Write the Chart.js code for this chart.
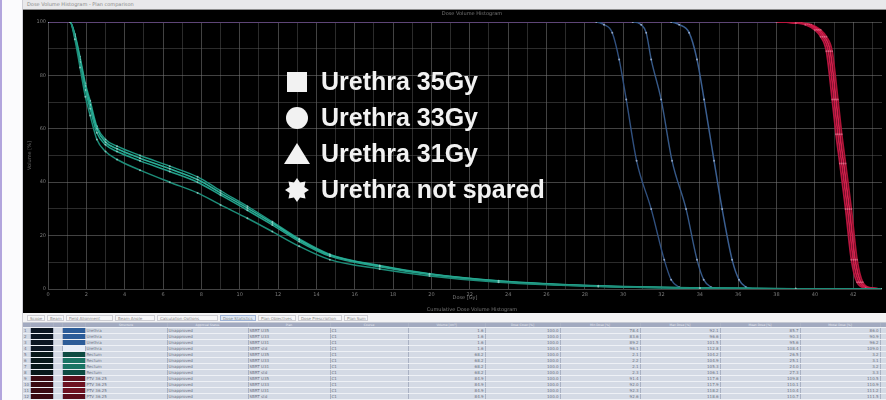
<!DOCTYPE html>
<html>
<head>
<meta charset="utf-8">
<title>DVH - urethra sparing</title>
<script src="https://cdn.jsdelivr.net/npm/chart.js@4.4.1/dist/chart.umd.min.js"></script>
<style>
  body { margin: 0; width: 886px; height: 400px; overflow: hidden; background: #f6f6f9; position: relative; font-family: 'DejaVu Sans', sans-serif; }
  #sideStrip { position: absolute; left: 0; top: 0; width: 23px; height: 400px; background: #fbfbfd; border-left: 2px solid #b2a5dd; border-right: 1px solid #cfcfd6; box-sizing: border-box; }
  #topBar { position: absolute; left: 23px; top: 0; width: 863px; height: 10px; background: #e9e9eb; border-bottom: 1px solid #8e8e8e; box-sizing: border-box; font-size: 5px; line-height: 9px; color: #8a8a8a; padding-left: 4px; white-space: nowrap; }
  #plotBox { position: absolute; left: 23px; top: 10px; width: 863px; height: 303px; background: #000; }
  #tabBar { position: absolute; left: 23px; top: 313px; width: 863px; height: 10px; background: #f3f3f5; border-bottom: 1px solid #c4c8d2; box-sizing: border-box; }
  .tab { position: absolute; top: 2px; height: 6px; font-size: 4px; line-height: 6px; color: #888; border: 1px solid #cdcdd3; box-sizing: border-box; padding-left: 2px; white-space: nowrap; overflow: hidden; background: #f7f7f9; }
  .tab.active { background: #dfe8f6; border-color: #9fb3d6; }
  #dvhTable { position: absolute; left: 23px; top: 323px; width: 863px; border-collapse: collapse; table-layout: fixed; background: #d4dae5; }
  #dvhTable td, #dvhTable th { height: 6px; padding: 0 1px; font-size: 4px; line-height: 5px; color: #6a7080; overflow: hidden; white-space: nowrap; border-right: 1px solid #aab2c4; border-bottom: 1px solid #eef1f6; box-sizing: border-box; font-weight: normal; }
  #dvhTable th { height: 4px; background: #a2aac0; color: #e8ebf2; line-height: 4px; font-size: 3px; }
  #dvhTable td.num { text-align: right; }
</style>
</head>
<body>
<div id="sideStrip"></div>
<div id="topBar">Dose Volume Histogram - Plan comparison</div>
<div id="plotBox"><canvas id="dvhChart" width="863" height="303"></canvas></div>
<div id="tabBar"></div>
<table id="dvhTable"></table>

<script>
// ---- chart data (dose in Gy, volume in %) ----
const xTickStep = 1;
const yTickStep = 10;
const chartTitle = 'Dose Volume Histogram';
const doseCaption = 'Cumulative Dose Volume Histogram';
const legendLabels = ['Urethra 35Gy', 'Urethra 33Gy', 'Urethra 31Gy', 'Urethra not spared'];
const legendMarkers = ['square', 'circle', 'triangle', 'burst'];

// rectum (teal) - 4 plans
const rectumDose = [0, 1.15, 1.4, 1.67, 1.95, 2.2, 2.55, 3.0, 3.6, 4.8, 6.35, 7.8, 9.0, 10.4, 11.7, 13.1, 14.7, 17.3, 19.9, 23.5, 28.7, 34, 39, 43.5];
const rectumVol1 = [100, 100, 95, 86, 76, 69, 60, 55, 52.5, 49, 45, 41, 36, 30.3, 24.7, 18.4, 12.7, 8.6, 5.6, 3.0, 1.1, 0.4, 0.1, 0];
const rectumVol2 = [100, 100, 94.5, 85, 74.5, 67.5, 58.5, 54, 51.5, 48, 44, 40, 35.2, 29.5, 24, 17.8, 12.3, 8.3, 5.4, 2.8, 1, 0.3, 0.1, 0];
const rectumVol3 = [100, 100, 93.5, 83, 72, 65, 56, 51.5, 48.5, 44.5, 40, 36, 31.5, 26.5, 21.5, 16, 11, 7.5, 4.9, 2.5, 0.9, 0.3, 0.1, 0];
const rectumVol4 = [100, 100, 95.5, 87, 77, 70.5, 61, 56, 53.5, 50, 46, 42, 36.8, 31, 25.2, 18.8, 13, 8.8, 5.7, 3.1, 1.2, 0.4, 0.1, 0];

// urethra (blue) - 3 spared plans
const urethraVol = [100, 100, 99, 96, 86, 71, 48, 30, 11, 3.5, 0.7, 0];
const urethra31Dose = [0, 28.6, 29.0, 29.43, 29.79, 30.16, 30.7, 31.46, 32.14, 32.5, 32.92, 33.4];
const urethra33Dose = [0, 30.5, 30.94, 31.2, 31.46, 31.98, 32.55, 33.28, 33.85, 34.2, 34.58, 35.0];
const urethra35Dose = [0, 32.5, 32.92, 33.44, 33.85, 34.22, 34.74, 35.16, 35.68, 36.04, 36.4, 36.8];

// PTV (red) - 4 plans
const ptvVol = [100, 100, 99.6, 99, 97, 94.5, 89, 71, 58, 47, 30, 11, 2.5, 0.4, 0];
const ptvDose1 = [0, 38.0, 39.0, 39.5, 40.0, 40.3, 40.6, 40.9, 41.1, 41.3, 41.6, 41.9, 42.2, 42.65, 43.5];
const ptvDose2 = [0, 38.1, 39.1, 39.6, 40.1, 40.4, 40.7, 41.0, 41.2, 41.4, 41.7, 42.0, 42.3, 42.75, 43.5];
const ptvDose3 = [0, 38.2, 39.2, 39.7, 40.2, 40.5, 40.8, 41.1, 41.3, 41.5, 41.8, 42.1, 42.4, 42.85, 43.5];
const ptvDose4 = [0, 38.3, 39.3, 39.8, 40.3, 40.6, 40.9, 41.2, 41.4, 41.6, 41.9, 42.2, 42.5, 42.95, 43.5];

// ---- table below the plot ----
const tabNames = ['Scope', 'Beam', 'Field Alignment', 'Beam Angle', 'Calculation Options', 'Dose Statistics', 'Plan Objectives', 'Dose Prescription', 'Plan Sum'];
const tabLefts = [4, 24, 43, 92, 134, 197, 235, 275, 321];
const tabWidths = [18, 17, 47, 40, 61, 36, 38, 44, 24];
const tableHeaders = ['', '', '', '', 'Structure', 'Approval Status', 'Plan', 'Course', 'Volume [cm³]', 'Dose Cover.[%]', 'Min Dose [%]', 'Max Dose [%]', 'Mean Dose [%]', 'Modal Dose [%]', ''];
const colWidths = [7, 23, 9, 23, 82, 81, 82, 78, 77, 75, 80, 80, 80, 80, 6];
const rowStructures = ['Urethra', 'Urethra', 'Urethra', 'Urethra', 'Rectum', 'Rectum', 'Rectum', 'Rectum', 'PTV 36.25', 'PTV 36.25', 'PTV 36.25', 'PTV 36.25'];
const rowPlans = ['SBRT U35', 'SBRT U33', 'SBRT U31', 'SBRT std', 'SBRT U35', 'SBRT U33', 'SBRT U31', 'SBRT std', 'SBRT U35', 'SBRT U33', 'SBRT U31', 'SBRT std'];
const rowVolumes = ['1.6', '1.6', '1.6', '1.6', '68.2', '68.2', '68.2', '68.2', '84.9', '84.9', '84.9', '84.9'];
const rowMinDose = ['78.4', '83.6', '89.2', '96.1', '2.1', '2.2', '2.1', '2.3', '91.4', '92.0', '92.3', '92.6'];
const rowMaxDose = ['92.1', '96.6', '101.5', '112.8', '104.2', '104.9', '105.3', '106.1', '117.6', '117.9', '118.2', '118.6'];
const rowMeanDose = ['85.7', '90.3', '95.6', '108.4', '26.5', '25.1', '24.0', '27.3', '109.8', '110.1', '110.4', '110.7'];
const rowModalDose = ['86.0', '90.9', '96.2', '109.0', '3.2', '3.1', '3.2', '3.3', '110.5', '110.9', '111.2', '111.5'];
const swatchDark = ['#0b1622', '#0b1622', '#0b1622', '#0b1622', '#08181a', '#08181a', '#08181a', '#08181a', '#3a0a12', '#3a0a12', '#3a0a12', '#3a0a12'];
const swatchColor = ['#2c5c98', '#2c5c98', '#2c5c98', '#e8eef8', '#0d4b42', '#1b7464', '#1b7464', '#0d4b42', '#5c0e1c', '#6e1222', '#6e1222', '#5c0e1c'];

const tabBar = document.getElementById('tabBar');
tabNames.forEach((name, i) => {
  const t = document.createElement('div');
  t.className = 'tab' + (name === 'Dose Statistics' ? ' active' : '');
  t.style.left = tabLefts[i] + 'px';
  t.style.width = tabWidths[i] + 'px';
  t.textContent = name;
  tabBar.appendChild(t);
});

const table = document.getElementById('dvhTable');
let html = '<colgroup>' + colWidths.map(w => '<col style="width:' + w + 'px">').join('') + '</colgroup>';
html += '<tr>' + tableHeaders.map(h => '<th>' + h + '</th>').join('') + '</tr>';
rowStructures.forEach((s, i) => {
  html += '<tr>' +
    '<td>' + (i + 1) + '</td>' +
    '<td style="background:' + swatchDark[i] + '"></td>' +
    '<td></td>' +
    '<td style="background:' + swatchColor[i] + '"></td>' +
    '<td>' + s + '</td>' +
    '<td>Unapproved</td>' +
    '<td>' + rowPlans[i] + '</td>' +
    '<td>C1</td>' +
    '<td class="num">' + rowVolumes[i] + '</td>' +
    '<td class="num">100.0</td>' +
    '<td class="num">' + rowMinDose[i] + '</td>' +
    '<td class="num">' + rowMaxDose[i] + '</td>' +
    '<td class="num">' + rowMeanDose[i] + '</td>' +
    '<td class="num">' + rowModalDose[i] + '</td>' +
    '<td></td></tr>';
});
table.innerHTML = html;

// ---- chart ----
const topFlatColor = 'rgba(95,70,120,0.75)';

function curve(dose, vol, color, width, dotColor) {
  return {
    data: dose.map((d, i) => ({ x: d, y: vol[i] })),
    borderColor: color,
    borderWidth: width,
    pointRadius: 1,
    pointBorderWidth: 0,
    pointBackgroundColor: dotColor,
    cubicInterpolationMode: 'monotone',
    segment: {
      borderColor: c => (c.p0.parsed.y >= 99.9 && c.p1.parsed.y >= 99.9) ? topFlatColor : undefined
    }
  };
}

function drawMarker(ctx, kind, cx, cy) {
  ctx.beginPath();
  if (kind === 'square') {
    ctx.rect(cx - 10, cy - 10, 20, 20);
  } else if (kind === 'circle') {
    ctx.arc(cx, cy, 11, 0, Math.PI * 2);
  } else if (kind === 'triangle') {
    ctx.moveTo(cx, cy - 11);
    ctx.lineTo(cx + 13, cy + 10);
    ctx.lineTo(cx - 13, cy + 10);
    ctx.closePath();
  } else {
    for (let k = 0; k < 16; k++) {
      const r = k % 2 === 0 ? 12 : 8;
      const a = -Math.PI / 2 + k * Math.PI / 8;
      const px = cx + r * Math.cos(a), py = cy + r * Math.sin(a);
      if (k === 0) ctx.moveTo(px, py); else ctx.lineTo(px, py);
    }
    ctx.closePath();
  }
  ctx.fill();
}

const overlayText = {
  id: 'overlayText',
  afterDatasetsDraw(chart) {
    const ctx = chart.ctx;
    ctx.save();
    ctx.fillStyle = '#777';
    ctx.font = '5px "DejaVu Sans"';
    ctx.textAlign = 'center';
    ctx.textBaseline = 'middle';
    ctx.fillText(chartTitle, 449, 4);
    ctx.fillText(doseCaption, 449, 300);

    ctx.font = 'bold 25px "Liberation Sans"';
    ctx.textAlign = 'left';
    ctx.fillStyle = '#f2f2f2';
    legendLabels.forEach((label, i) => {
      const y = 72 + i * 36;
      drawMarker(ctx, legendMarkers[i], 274, y);
      ctx.fillText(label, 298, y + 1);
    });
    ctx.restore();
  }
};

const majorGrid = 'rgba(120,120,120,0.55)';
const minorGrid = 'rgba(95,95,95,0.45)';
const tealDot = 'rgba(200,235,230,0.6)';
const blueDot = 'rgba(190,205,230,0.7)';
const redDot = 'rgba(255,170,190,0.45)';

const ctx = document.getElementById('dvhChart').getContext('2d');
const chart = new Chart(ctx, {
  type: 'line',
  data: {
    datasets: [
      curve(rectumDose, rectumVol3, '#1d8c78', 1.5, tealDot),
      curve(rectumDose, rectumVol2, '#23a08a', 1.5, tealDot),
      curve(rectumDose, rectumVol1, '#2aae96', 1.6, tealDot),
      curve(rectumDose, rectumVol4, '#1f9682', 1.4, tealDot),
      curve(urethra31Dose, urethraVol, '#30507f', 1.4, blueDot),
      curve(urethra33Dose, urethraVol, '#365988', 1.4, blueDot),
      curve(urethra35Dose, urethraVol, '#3a5e90', 1.5, blueDot),
      curve(ptvDose1, ptvVol, '#b81640', 1.7, redDot),
      curve(ptvDose2, ptvVol, '#cc1c48', 1.7, redDot),
      curve(ptvDose3, ptvVol, '#d4204e', 1.7, redDot),
      curve(ptvDose4, ptvVol, '#b01438', 1.7, redDot)
    ]
  },
  options: {
    responsive: false,
    animation: false,
    devicePixelRatio: 1,
    layout: { padding: { top: 12, right: 3, left: 0, bottom: 0 } },
    plugins: { legend: { display: false }, tooltip: { enabled: false } },
    scales: {
      x: {
        type: 'linear',
        min: 0,
        max: 43.5,
        afterFit: s => { s.height = 24; },
        border: { display: false },
        grid: {
          drawTicks: false,
          color: c => (c.tick && c.tick.value % 2 === 0) ? majorGrid : minorGrid
        },
        ticks: {
          stepSize: xTickStep,
          includeBounds: false,
          autoSkip: false,
          maxRotation: 0,
          padding: 3,
          color: '#7a7a7a',
          font: { family: 'DejaVu Sans', size: 5 },
          callback: v => v % 2 === 0 ? v : ''
        },
        title: {
          display: true,
          text: 'Dose [Gy]',
          color: '#7a7a7a',
          font: { family: 'DejaVu Sans', size: 5 },
          padding: { top: 0, bottom: 12 }
        }
      },
      y: {
        min: 0,
        max: 100,
        afterFit: s => { s.width = 25; },
        border: { display: false },
        grid: {
          drawTicks: false,
          color: c => (c.tick && c.tick.value % 20 === 0) ? majorGrid : minorGrid
        },
        ticks: {
          stepSize: yTickStep,
          autoSkip: false,
          padding: 2,
          color: '#7a7a7a',
          font: { family: 'DejaVu Sans', size: 5 },
          callback: v => v % 20 === 0 ? v : ''
        },
        title: {
          display: true,
          text: 'Volume [%]',
          color: '#666',
          font: { family: 'DejaVu Sans', size: 5 },
          padding: { top: 4, bottom: 0 }
        }
      }
    }
  },
  plugins: [overlayText]
});
</script>
</body>
</html>
